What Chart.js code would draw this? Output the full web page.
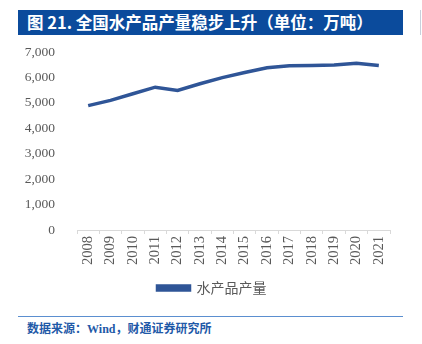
<!DOCTYPE html>
<html>
<head>
<meta charset="utf-8">
<script src="https://cdn.jsdelivr.net/npm/chart.js@4"></script>
<style>
  body { margin: 0; width: 422px; height: 344px; background: #fff; position: relative; overflow: hidden; }
  #title { position: absolute; left: 18px; top: 10px; width: 385px; height: 25px; background: #0b4b9c;
    color: #fff; font: bold 16.5px "Noto Sans CJK SC", sans-serif; line-height: 25px; padding-left: 9px; box-sizing: border-box; white-space: nowrap; }
  #rule { position: absolute; left: 420px; top: 10px; width: 1px; height: 25px; background: #c8d0dc; }
  #wrap { position: absolute; left: 0; top: 30px; width: 410px; height: 275px; }
  #foot { position: absolute; left: 18px; top: 316px; width: 385px; border-top: 1px solid #5b8fd0; }
  #src { position: absolute; left: 27px; top: 319px; color: #1f5aa8; font: bold 12px "Noto Sans CJK SC", sans-serif; }
  #src span { font-family: "Liberation Serif", serif; }
</style>
</head>
<body>
<div id="title">图 21. 全国水产品产量稳步上升（单位：万吨）</div>
<div id="rule"></div>
<div id="wrap"><canvas id="chart"></canvas></div>
<div id="foot"></div>
<div id="src">数据来源：<span>Wind</span>，财通证券研究所</div>
<script>
const years = ["2008", "2009", "2010", "2011", "2012", "2013", "2014", "2015", "2016", "2017", "2018", "2019", "2020", "2021"];
const output = [4895, 5100, 5360, 5620, 5490, 5755, 5995, 6195, 6380, 6460, 6470, 6490, 6560, 6470];
const yTicks = [0, 1000, 2000, 3000, 4000, 5000, 6000, 7000];

const blue = "#2f5597";
const gray = "#595959";
const serif = "'Liberation Serif', 'Times New Roman', serif";

// nudge the legend right so it sits under the plot like the original
const legendShift = {
  id: "legendShift",
  afterLayout(chart) {
    chart.legend.left += 17;
    chart.legend.right += 17;
  }
};

const ctx = document.getElementById("chart").getContext("2d");
new Chart(ctx, {
  type: "line",
  data: {
    labels: years,
    datasets: [{
      label: "水产品产量",
      data: output,
      borderColor: blue,
      backgroundColor: blue,
      borderWidth: 3.5,
      pointRadius: 0,
      tension: 0
    }]
  },
  options: {
    responsive: true,
    maintainAspectRatio: false,
    animation: false,
    layout: { padding: { top: 6, right: 20, left: 0, bottom: 0 } },
    plugins: {
      tooltip: { enabled: false },
      legend: {
        position: "bottom",
        labels: {
          boxWidth: 32,
          boxHeight: 4,
          padding: 14,
          color: gray,
          font: { family: "Noto Sans CJK SC", size: 14 }
        }
      }
    },
    scales: {
      x: {
        offset: true,
        grid: { offset: true, drawOnChartArea: false, drawTicks: true, tickLength: 4, color: "#d9d9d9" },
        border: { color: "#d9d9d9" },
        ticks: {
          color: gray,
          minRotation: 90,
          maxRotation: 90,
          padding: 2,
          font: { family: serif, size: 14.5 }
        }
      },
      y: {
        min: 0,
        max: 7000,
        afterBuildTicks: axis => { axis.ticks = yTicks.map(v => ({ value: v })); },
        afterFit: axis => { axis.width = 77; },
        grid: { display: false },
        border: { display: false },
        ticks: {
          color: gray,
          padding: 14,
          font: { family: serif, size: 13.5 },
          callback: v => v.toLocaleString("en-US")
        }
      }
    }
  },
  plugins: [legendShift]
});
</script>
</body>
</html>
